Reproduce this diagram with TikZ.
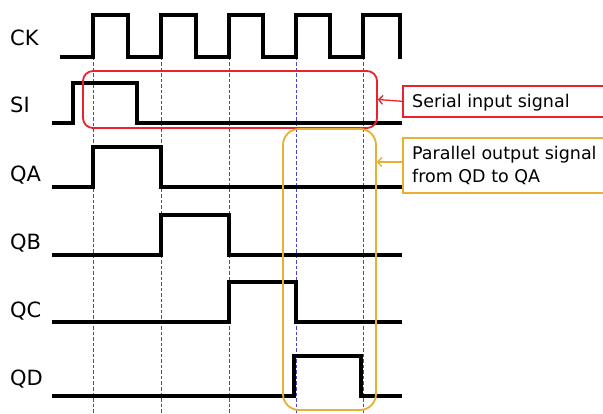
\documentclass[tikz,border=0pt]{standalone}
\usepackage{fontspec}
\usetikzlibrary{arrows.meta}
\setmainfont{DejaVu Sans}
\definecolor{selred}{HTML}{E8232B}
\definecolor{selgold}{HTML}{E8B030}
\definecolor{gridblue}{HTML}{4545DD}
\begin{document}
\begin{tikzpicture}[x=1pt,y=-1pt,
  wave/.style={line width=3.6pt,line join=miter,line cap=butt},
  grid/.style={gridblue,line width=1pt,dash pattern=on 3.5pt off 2pt},
  siglabel/.style={anchor=base west,inner sep=0pt,font=\fontsize{21}{24}\selectfont},
  annbox/.style={draw,line width=1.6pt,fill=white,anchor=north west,inner sep=0pt,minimum width=260pt},
  anntext/.style={anchor=base west,inner sep=0pt,font=\fontsize{17.5}{22}\selectfont},
  selbox/.style={draw,line width=1.8pt,inner sep=0pt},
  pointer/.style={line width=1.3pt,-{Straight Barb[length=4pt,width=9pt]}}]
\useasboundingbox (0,0) rectangle (603,414);
\clip (0,0) rectangle (603,414);
% grid
\foreach \x/\n in {93/g1,161/g2,229/g3,296/g4,363/g5}{
  \coordinate (\n top) at (\x,57);
  \coordinate (\n bot) at (\x,414);
  \draw[grid] (\n top) -- (\n bot);
}
% labels
\node[siglabel] (lck) at (10,46) {CK};
\node[siglabel] (lsi) at (10,113) {SI};
\node[siglabel] (lqa) at (10,182) {QA};
\node[siglabel] (lqb) at (10,250) {QB};
\node[siglabel] (lqc) at (10,318) {QC};
\node[siglabel] (lqd) at (10,385) {QD};
% CK
\draw[wave] (60,57) -- (93,57) -- (93,15) -- (128,15) -- (128,57) -- (161,57) -- (161,15) -- (196,15) -- (196,57) -- (229,57) -- (229,15) -- (263,15) -- (263,57) -- (296,57) -- (296,15) -- (330,15) -- (330,57) -- (363,57) -- (363,15) -- (400,15) -- (400,59);
% SI
\draw[wave] (52,123) -- (73,123) -- (73,83) -- (137,83) -- (137,123) -- (402,123);
% QA
\draw[wave] (52,187) -- (93,187) -- (93,147) -- (161,147) -- (161,187) -- (402,187);
% QB
\draw[wave] (52,255) -- (161,255) -- (161,215) -- (229,215) -- (229,255) -- (402,255);
% QC
\draw[wave] (52,322) -- (229,322) -- (229,282) -- (296,282) -- (296,322) -- (402,322);
% QD
\draw[wave] (52,396) -- (294,396) -- (294,356) -- (361,356) -- (361,396) -- (402,396);
% selection boxes
\node[selbox,draw=selred,minimum width=294pt,minimum height=57pt,rounded corners=10pt] (redbox) at (230,99.5) {};
\node[selbox,draw=selgold,minimum width=93pt,minimum height=281pt,rounded corners=16pt] (goldbox) at (329.5,269.5) {};
% annotations
\node[annbox,draw=selred,minimum height=31pt] (redann) at (402,85) {};
\node[anntext] (redtxt) at (412,108) {Serial input signal};
\node[annbox,draw=selgold,minimum height=55pt] (goldann) at (402,137) {};
\node[anntext] (goldtxt1) at (412,160) {Parallel output signal};
\node[anntext] (goldtxt2) at (412,183) {from QD to QA};
\draw[selred,pointer] (redann.west) -- (redbox.east);
\coordinate (ga) at (402,162);
\draw[selgold,pointer] (ga) -- (goldbox.east |- ga);
\end{tikzpicture}
\end{document}
